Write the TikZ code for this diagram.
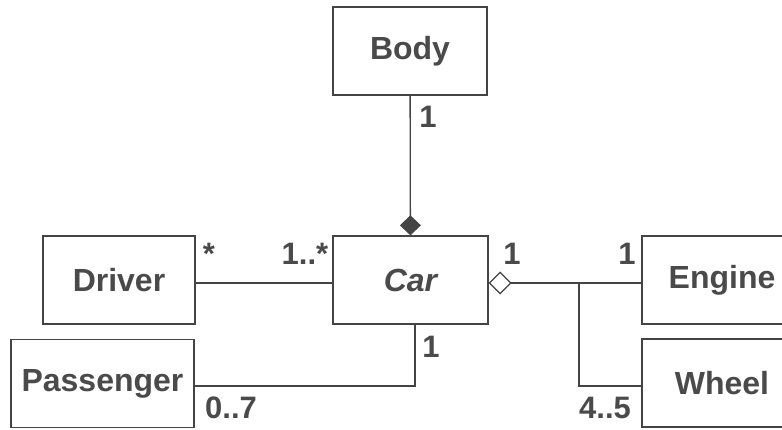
\documentclass[tikz,border=0pt]{standalone}
\usepackage{fontspec}
\setmainfont{Liberation Sans}
\usepackage{xcolor}
\usetikzlibrary{positioning}
\usetikzlibrary{arrows.meta}

\definecolor{umlline}{HTML}{444444}
\definecolor{umltext}{HTML}{4A4A4A}

\begin{document}
\begin{tikzpicture}[
        x=1pt, y=-1pt,
        line width=1.3pt,
        class/.style = {
        draw=umlline, minimum width=154pt, minimum height=88pt, inner sep=0pt,
        font=\fontsize{32}{38}\selectfont\bfseries, text=umltext
        },
        mult/.style = {anchor=base, inner sep=0pt, font=\fontsize{31}{36}\selectfont\bfseries, text=umltext},
        assoc/.style = {draw=umlline}
        ]
        \fill[white] (0,0) rectangle (782,430);
        \useasboundingbox (0,0) rectangle (782,430);

        % classes
        \node[class] (Body) at (410,51) {Body};
        \node[class, minimum width=155pt] (Car) at (410.5,280) {\itshape Car};
        \node[class, minimum width=152pt] (Driver) at (119,280) {Driver};
        \node[class, minimum width=183pt] (Passenger) at (102.5,383.5) {Passenger};
        \node[class, minimum width=160pt] (Engine) at (722,280) {Engine};
        \node[class, minimum width=160pt] (Wheel) at (722,383) {Wheel};

        % associations
        \draw[assoc, -{Diamond[length=20pt, width=21pt, fill=umlline]}] (Body) -- (Car);
        \draw[assoc] ([yshift=-3pt]Driver.east) -- ([yshift=-3pt]Car.west);
        \draw[assoc] ([yshift=-2.5pt]Passenger.east) -| ([xshift=4.5pt]Car.south);
        \coordinate (joint) at (579,283);
        \draw[assoc, {Diamond[open, length=23pt, width=23pt]}-] ([yshift=-3pt]Car.east) -- ([yshift=-3pt]Engine.west);
        \draw[assoc] (joint) |- ([yshift=-3pt]Wheel.west);

        % multiplicities
        \node[mult] (mBody) at (428,128) {1};
        \node[mult] (mDriver) at (209,265) {*};
        \node[mult] (mCarD) at (305,265) {1..*};
        \node[mult] (mCarP) at (431,358) {1};
        \node[mult] (mPass) at (231,418) {0..7};
        \node[mult] (mCarE) at (512,265) {1};
        \node[mult] (mEngine) at (627,265) {1};
        \node[mult] (mWheel) at (605,418) {4..5};
    \end{tikzpicture}
\end{document}
